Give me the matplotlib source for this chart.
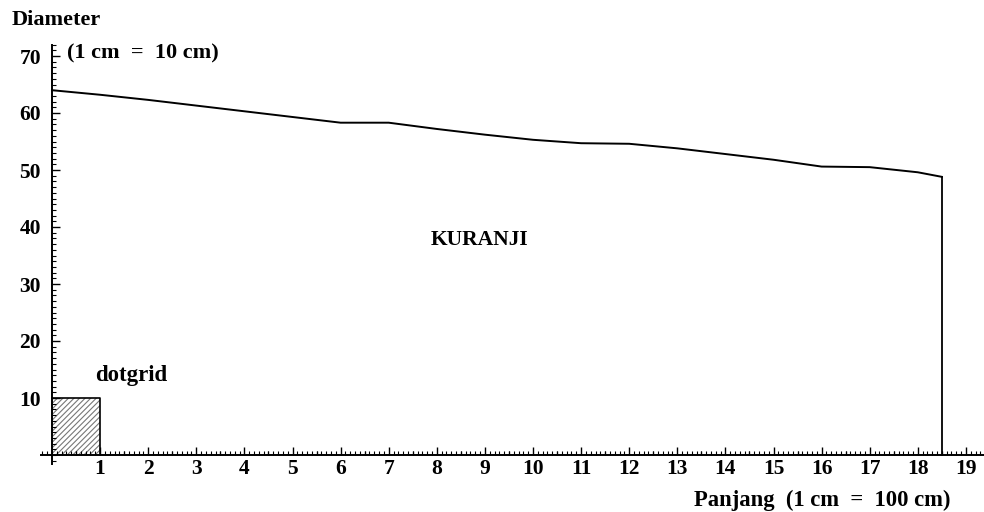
import matplotlib
matplotlib.use("Agg")
import matplotlib.pyplot as plt
from matplotlib.patches import Rectangle
from matplotlib.ticker import MultipleLocator
import numpy as np

# Data
panjang = [0, 1, 2, 3, 4, 5, 6, 7, 8, 9, 10, 11, 12, 13, 14, 15, 16, 17, 18, 18.5]
diameter = [64.0, 63.2, 62.3, 61.3, 60.3, 59.3, 58.3, 58.3, 57.2, 56.2, 55.3,
            54.7, 54.6, 53.8, 52.8, 51.8, 50.6, 50.5, 49.6, 48.8]
x_ticks = list(range(1, 20))
y_ticks = [10, 20, 30, 40, 50, 60, 70]
dotgrid_w, dotgrid_h = 1, 10

FONT = ["Liberation Serif", "DejaVu Serif"]
plt.rcParams['font.family'] = FONT
plt.rcParams['font.weight'] = 'bold'
plt.rcParams['hatch.color'] = '#777777'
plt.rcParams['hatch.linewidth'] = 0.8

W, H = 984, 512
fig = plt.figure(figsize=(W / 100, H / 100), dpi=100)
# pixel mapping: x=0 -> 52px, 48.1 px/unit ; y=0 -> 455px, 5.7 px/unit
xmin, xmax = -0.22, 19.37
ymin, ymax = -1.5, 72.0
left = (52 + 48.1 * xmin) / W
right = (52 + 48.1 * xmax) / W
bottom = 1 - (455 - 5.7 * ymin) / H
top = 1 - (455 - 5.7 * ymax) / H
ax = fig.add_axes([left, bottom, right - left, top - bottom])
ax.set_xlim(xmin, xmax)
ax.set_ylim(ymin, ymax)

for s in ['top', 'right']:
    ax.spines[s].set_visible(False)
ax.spines['left'].set_position(('data', 0))
ax.spines['bottom'].set_position(('data', 0))
ax.spines['left'].set_linewidth(1.4)
ax.spines['bottom'].set_linewidth(1.4)

ax.set_xticks(x_ticks)
ax.set_xticklabels([str(t) for t in x_ticks])
ax.xaxis.set_minor_locator(MultipleLocator(0.1))
ax.set_yticks(y_ticks)
ax.set_yticklabels([str(t) for t in y_ticks])
ax.yaxis.set_minor_locator(MultipleLocator(1))
ax.tick_params(axis='x', which='major', direction='in', length=5.5, width=1.0,
               pad=3, labelsize=15.5)
ax.tick_params(axis='x', which='minor', direction='in', length=2.8, width=0.8)
ax.tick_params(axis='y', which='major', direction='in', length=5.5, width=1.0,
               pad=8, labelsize=15.5)
ax.tick_params(axis='y', which='minor', direction='in', length=3.2, width=0.8)
for lab in ax.get_xticklabels() + ax.get_yticklabels():
    lab.set_fontweight('bold')

# half-unit ticks on the x axis (slightly longer than minor ticks)
half = np.arange(0.5, 19.5, 1.0)
ax.vlines(half, 0, 0.75, color='black', lw=0.9, zorder=4)

# hatched dotgrid square
ax.add_patch(Rectangle((0, 0), dotgrid_w, dotgrid_h, facecolor='white',
                       edgecolor='#777777', hatch='//////', linewidth=0, zorder=1))
ax.plot([0, dotgrid_w, dotgrid_w], [dotgrid_h, dotgrid_h, 0], color='black', lw=1.2, zorder=2)

# profile line
ax.plot(panjang, diameter, color='black', lw=1.4, zorder=3)
ax.plot([panjang[-1], panjang[-1]], [diameter[-1], 0], color='black', lw=1.3, zorder=3)

# texts
fig.text(12 / W, 1 - 20 / H, "Diameter", fontsize=16, fontweight='bold', va='center', ha='left')
fig.text(67 / W, 1 - 53 / H, "(1 cm  =  10 cm)", fontsize=16, fontweight='bold', va='center', ha='left')
ax.text(8.88, 37.7, "KURANJI", fontsize=15.5, fontweight='bold', ha='center', va='center')
ax.text(1.64, 13.9, "dotgrid", fontsize=16.5, fontweight='bold', ha='center', va='center')
fig.text(822 / W, 1 - 500 / H, "Panjang  (1 cm  =  100 cm)", fontsize=16.3, fontweight='bold',
         ha='center', va='center')

fig.savefig("out.png", dpi=100, facecolor='white')
